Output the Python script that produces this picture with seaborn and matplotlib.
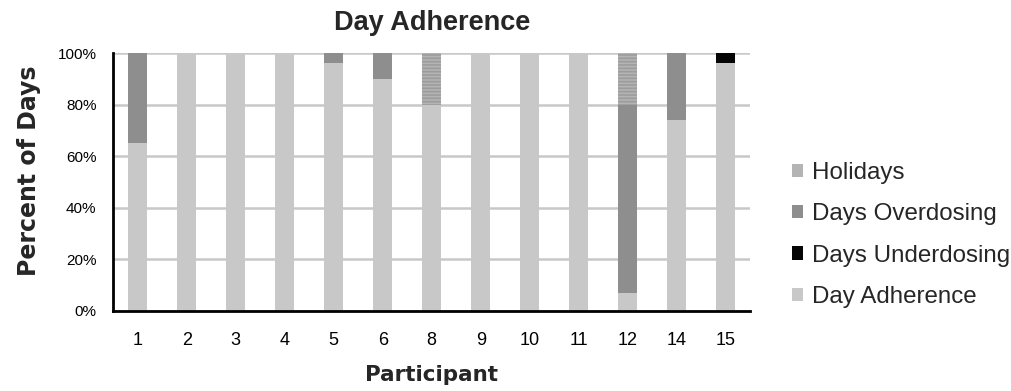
import numpy as np
import pandas as pd
import matplotlib
matplotlib.use("Agg")
import matplotlib.pyplot as plt
from matplotlib.patches import Patch
from matplotlib.ticker import PercentFormatter, MultipleLocator
import seaborn as sns

participants = ["1", "2", "3", "4", "5", "6", "8", "9", "10", "11", "12", "14", "15"]
day_adherence = [65, 100, 100, 100, 96, 90, 80, 100, 100, 100, 7, 74, 96]
days_underdosing = [0, 0, 0, 0, 0, 0, 0, 0, 0, 0, 0, 0, 4]
days_overdosing = [35, 0, 0, 0, 4, 10, 0, 0, 0, 0, 73, 26, 0]
holidays = [0, 0, 0, 0, 0, 0, 20, 0, 0, 0, 20, 0, 0]

sns.set_style("white")
plt.rcParams["font.family"] = ["Liberation Sans", "DejaVu Sans"]
plt.rcParams["hatch.linewidth"] = 1.2

c_adh = "#c8c8c8"
c_under = "#050505"
c_over = "#8e8e8e"
c_hol = "#b4b4b4"

df = pd.DataFrame({
    "Participant": participants,
    "adh": day_adherence,
    "under": days_underdosing,
    "over": days_overdosing,
    "hol": holidays,
})

fig = plt.figure(figsize=(10.11, 3.91), dpi=100)
ax = fig.add_axes([0.112, 0.205, 0.63, 0.659])

width = 0.38
b1 = np.array(day_adherence, dtype=float)
b2 = b1 + np.array(days_underdosing)
b3 = b2 + np.array(days_overdosing)

sns.barplot(data=df, x="Participant", y="adh", order=participants, color=c_adh,
            width=width, saturation=1, linewidth=0, ax=ax)
sns.barplot(data=df, x="Participant", y="under", order=participants, color=c_under,
            width=width, saturation=1, linewidth=0, bottom=b1, ax=ax)
sns.barplot(data=df, x="Participant", y="over", order=participants, color=c_over,
            width=width, saturation=1, linewidth=0, bottom=b2, ax=ax)
sns.barplot(data=df, x="Participant", y="hol", order=participants, color=c_hol,
            width=width, saturation=1, linewidth=0, bottom=b3, ax=ax)

# horizontal stripes on the holiday segments
n = len(participants)
for p in ax.patches[3 * n:]:
    p.set_hatch("-----")
    p.set_edgecolor("#9c9c9c")
    p.set_linewidth(0)

ax.set_ylim(0, 100)
ax.set_xlim(-0.5, n - 0.5)
ax.yaxis.set_major_locator(MultipleLocator(20))
ax.yaxis.set_major_formatter(PercentFormatter(decimals=0))
ax.grid(axis="y", color="#c8c8c8", linewidth=1.8)
ax.set_axisbelow(True)

for s in ["top", "right"]:
    ax.spines[s].set_visible(False)
for s in ["left", "bottom"]:
    ax.spines[s].set_color("black")
    ax.spines[s].set_linewidth(2)

# category labels at bar centres, tick marks on the boundaries between them
ax.set_xticks(np.arange(n + 1) - 0.5, minor=True)
ax.set_xticks(np.arange(n))
ax.set_xticklabels(participants)
ax.tick_params(axis="x", which="major", length=0, labelsize=13, pad=15)
ax.tick_params(axis="x", which="minor", length=7, width=2, color="black", direction="out")
ax.tick_params(axis="y", which="major", length=8, width=2, color="black", direction="out",
               labelsize=11, pad=4)
ax.tick_params(axis="both", labelcolor="black")

lab_font = ["DejaVu Sans"]
ax.set_xlabel("Participant", fontsize=15.5, fontweight="bold", family=lab_font, labelpad=12)
ax.set_ylabel("Percent of Days", fontsize=17, fontweight="bold", family=lab_font)
ax.yaxis.set_label_coords(-0.114, 0.545)
ax.set_title("Day Adherence", fontsize=19.5, fontweight="bold", pad=17)

handles = [
    Patch(facecolor=c_hol, edgecolor="none", label="Holidays"),
    Patch(facecolor=c_over, edgecolor="none", label="Days Overdosing"),
    Patch(facecolor=c_under, edgecolor="none", label="Days Underdosing"),
    Patch(facecolor=c_adh, edgecolor="none", label="Day Adherence"),
]
fig.legend(handles=handles, loc="center left", bbox_to_anchor=(0.783, 0.399),
           frameon=False, fontsize=17.4, handlelength=0.46, handleheight=0.46,
           handletextpad=0.4, labelspacing=0.8, borderpad=0, borderaxespad=0)

fig.savefig("out.png", dpi=100)
